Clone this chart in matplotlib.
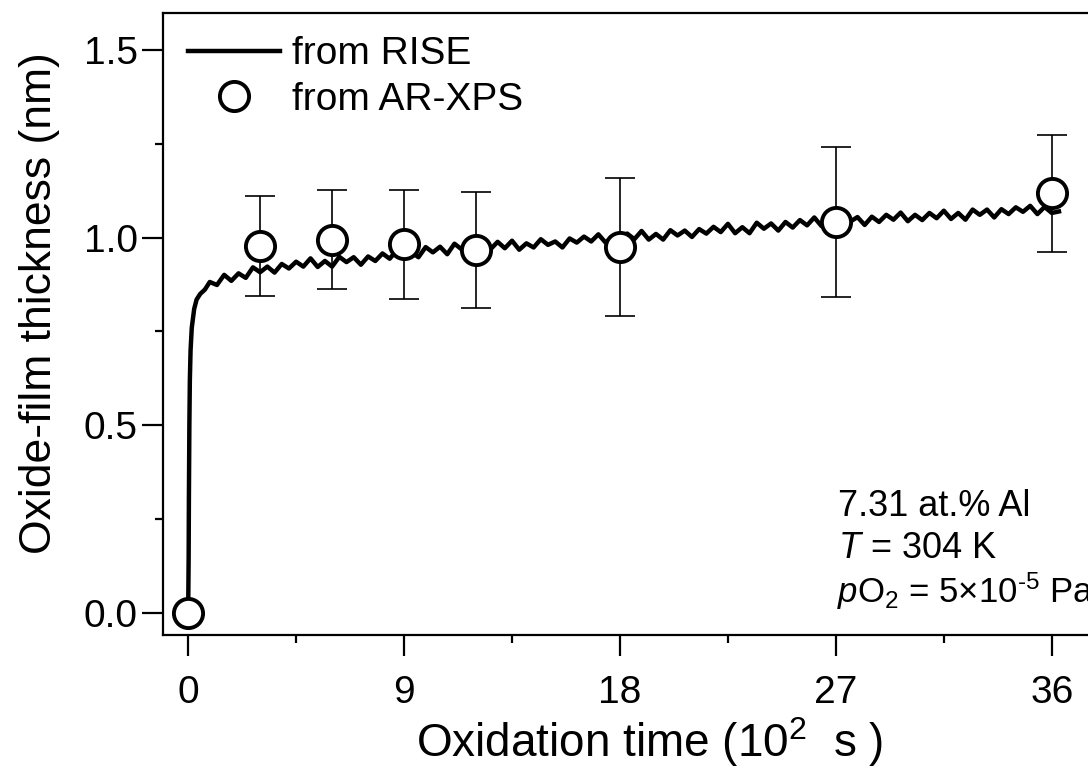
import matplotlib
matplotlib.use("Agg")
import matplotlib.pyplot as plt
from matplotlib.ticker import MultipleLocator, FormatStrFormatter

plt.rcParams['font.family'] = ['Liberation Sans', 'DejaVu Sans']
plt.rcParams['mathtext.fontset'] = 'custom'
plt.rcParams['mathtext.rm'] = 'Liberation Sans'
plt.rcParams['mathtext.it'] = 'Liberation Sans:italic'

# RISE curve: initial rise
rise_t0 = [0.0, 0.02, 0.03, 0.05, 0.07, 0.10, 0.15, 0.25, 0.35, 0.50, 0.70]
rise_y0 = [0.0, 0.15, 0.30, 0.50, 0.62, 0.70, 0.76, 0.81, 0.835, 0.85, 0.862]
# RISE curve: noisy slow growth (0.9 ... 36.3, step 0.3)
rise_t1 = [0.9, 1.2, 1.5, 1.8, 2.1, 2.4, 2.7, 3.0, 3.3, 3.6, 3.9, 4.2,
           4.5, 4.8, 5.1, 5.4, 5.7, 6.0, 6.3, 6.6, 6.9, 7.2, 7.5, 7.8,
           8.1, 8.4, 8.7, 9.0, 9.3, 9.6, 9.9, 10.2, 10.5, 10.8, 11.1, 11.4,
           11.7, 12.0, 12.3, 12.6, 12.9, 13.2, 13.5, 13.8, 14.1, 14.4, 14.7, 15.0,
           15.3, 15.6, 15.9, 16.2, 16.5, 16.8, 17.1, 17.4, 17.7, 18.0, 18.3, 18.6,
           18.9, 19.2, 19.5, 19.8, 20.1, 20.4, 20.7, 21.0, 21.3, 21.6, 21.9, 22.2,
           22.5, 22.8, 23.1, 23.4, 23.7, 24.0, 24.3, 24.6, 24.9, 25.2, 25.5, 25.8,
           26.1, 26.4, 26.7, 27.0, 27.3, 27.6, 27.9, 28.2, 28.5, 28.8, 29.1, 29.4,
           29.7, 30.0, 30.3, 30.6, 30.9, 31.2, 31.5, 31.8, 32.1, 32.4, 32.7, 33.0,
           33.3, 33.6, 33.9, 34.2, 34.5, 34.8, 35.1, 35.4, 35.7, 36.0, 36.3]
rise_y1 = [0.882, 0.874, 0.901, 0.885, 0.905, 0.893, 0.921, 0.908, 0.923, 0.907, 0.930, 0.918,
           0.936, 0.923, 0.945, 0.922, 0.938, 0.923, 0.949, 0.935, 0.948, 0.928, 0.950, 0.938,
           0.958, 0.944, 0.967, 0.945, 0.962, 0.948, 0.975, 0.961, 0.976, 0.956, 0.984, 0.969,
           0.982, 0.961, 0.981, 0.969, 0.989, 0.972, 0.992, 0.968, 0.985, 0.974, 0.996, 0.981,
           0.990, 0.974, 0.998, 0.987, 1.003, 0.990, 1.009, 0.987, 1.003, 0.992, 1.011, 0.996,
           1.018, 0.995, 1.010, 0.995, 1.020, 1.006, 1.019, 1.002, 1.023, 1.011, 1.029, 1.015,
           1.037, 1.012, 1.028, 1.012, 1.040, 1.024, 1.038, 1.019, 1.042, 1.027, 1.047, 1.033,
           1.054, 1.031, 1.047, 1.037, 1.058, 1.043, 1.055, 1.034, 1.056, 1.042, 1.061, 1.048,
           1.067, 1.044, 1.061, 1.047, 1.066, 1.052, 1.072, 1.050, 1.066, 1.048, 1.075, 1.061,
           1.075, 1.054, 1.076, 1.063, 1.081, 1.069, 1.085, 1.063, 1.082, 1.066, 1.070]
rise_t = rise_t0 + rise_t1
rise_y = rise_y0 + rise_y1

# AR-XPS points
xps_t = [0, 3, 6, 9, 12, 18, 27, 36]
xps_y = [0.0, 0.978, 0.995, 0.982, 0.968, 0.975, 1.043, 1.118]
xps_err = [0.0, 0.133, 0.133, 0.146, 0.155, 0.183, 0.200, 0.157]

xticks = [0, 9, 18, 27, 36]
yticks = [0.0, 0.5, 1.0, 1.5]

fig = plt.figure(figsize=(10.88, 7.74), dpi=100)
ax = fig.add_axes([0.1498, 0.1796, 0.8566, 0.8036])

ax.plot(rise_t, rise_y, color='black', lw=3.2, label='from RISE', zorder=2)
ax.errorbar(xps_t, xps_y, yerr=xps_err, fmt='none', ecolor='black', elinewidth=1.2,
            capsize=11, capthick=1.2, zorder=3)
ax.plot(xps_t, xps_y, 'o', ms=21, mfc='white', mec='black', mew=2.8,
        label='from AR-XPS', zorder=4, linestyle='none')

ax.set_xlim(-1.05, 37.8)
ax.set_ylim(-0.059, 1.599)
ax.set_xticks(xticks)
ax.set_yticks(yticks)
ax.xaxis.set_minor_locator(MultipleLocator(4.5))
ax.yaxis.set_minor_locator(MultipleLocator(0.25))
ax.yaxis.set_major_formatter(FormatStrFormatter('%.1f'))

ax.tick_params(which='major', direction='out', length=15, width=1.6, labelsize=28)
ax.tick_params(axis='x', which='major', pad=14)
ax.tick_params(axis='y', which='major', pad=3)
ax.tick_params(which='minor', direction='out', length=6, width=1.6)
ax.tick_params(top=False, right=False, which='both')
for s in ax.spines.values():
    s.set_linewidth(1.6)

ax.set_xlabel('Oxidation time (10$^2$  s )', fontsize=33)
ax.xaxis.set_label_coords(0.5225, -0.128)
ax.set_ylabel('Oxide-film thickness (nm)', fontsize=32)
ax.yaxis.set_label_coords(-0.111, 0.534)

ax.legend(loc='upper left', bbox_to_anchor=(0.006, 0.994), frameon=False, fontsize=28,
          handlelength=2.37, handletextpad=0.3, labelspacing=0.25, markerscale=1.0,
          borderaxespad=0.2, borderpad=0.3)

tr = fig.dpi_scale_trans
fig_h = 774
ax.text(838 / 100, (fig_h - 516) / 100, '7.31 at.% Al', transform=tr, fontsize=26,
        va='baseline', ha='left')
ax.text(838 / 100, (fig_h - 558) / 100, r'$\it{T}$ = 304 K', transform=tr, fontsize=26,
        va='baseline', ha='left')
ax.text(837 / 100, (fig_h - 603) / 100, r'$\it{p}$O$_2$ = 5×10$^{\text{-}5}$ Pa',
        transform=tr, fontsize=25, va='baseline', ha='left')

fig.savefig('out.png', dpi=100)
